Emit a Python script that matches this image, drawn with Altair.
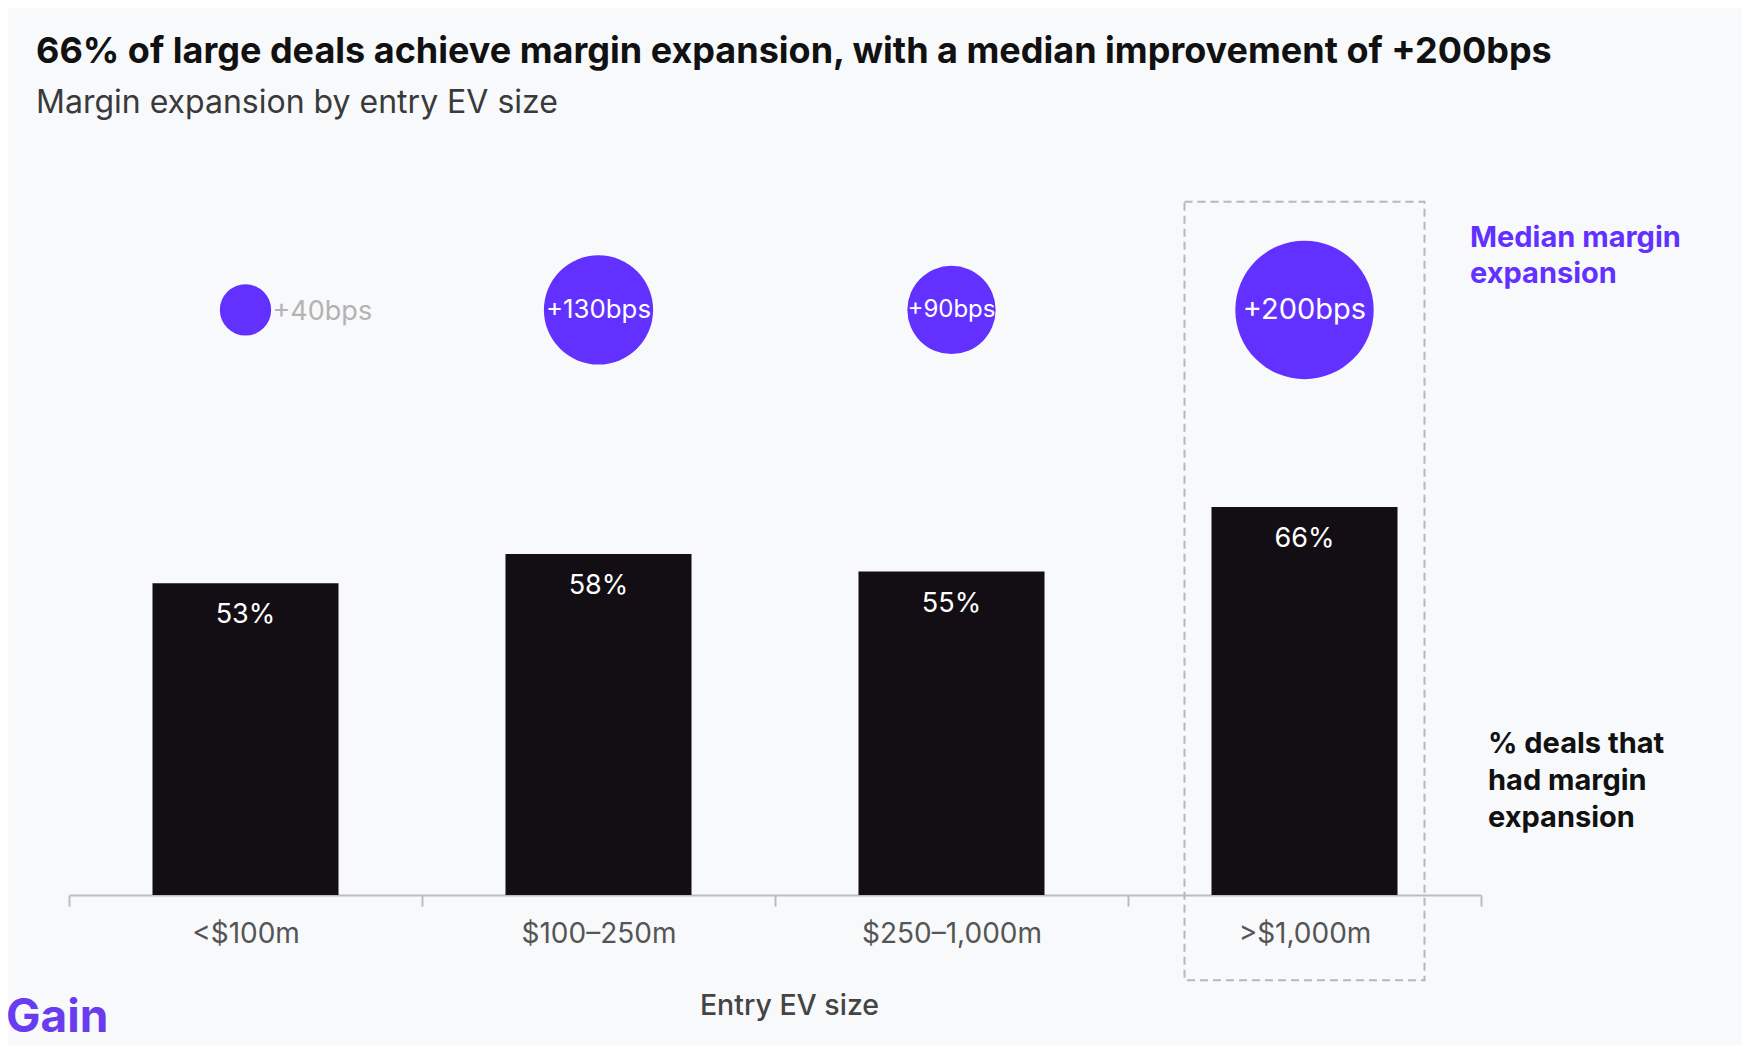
import pandas as pd
import altair as alt

# values
categories = ["<$100m", "$100–250m", "$250–1,000m", ">$1,000m"]
pct_deals = [53, 58, 55, 66]
median_bps = [40, 130, 90, 200]

PURPLE = "#6231ff"
BAR = "#130e14"
FONT = "Inter"

df = pd.DataFrame({
    "band": categories,
    "pct": pct_deals,
    "bps": median_bps,
})
df["pct_label"] = df["pct"].astype(str) + "%"
df["bps_label"] = "+" + df["bps"].astype(str) + "bps"

# side notes, with their vertical place on the % scale
notes = pd.DataFrame({
    "note": ["Median margin\nexpansion", "%  deals that\nhad margin\nexpansion"],
    "at": [114.1, 28.1],
})
logo_df = pd.DataFrame({"note": ["Gain"], "at": [-21.0]})
box_df = pd.DataFrame({"band": [categories[-1]], "top": [117.9], "bottom": [-14.5]})

x = alt.X("band:N", sort=categories, title="Entry EV size",
          scale=alt.Scale(paddingInner=0, paddingOuter=0),
          axis=alt.Axis(labelAngle=0, tickBand="extent", domainColor="#bdbdbd",
                        domainWidth=2, tickColor="#bdbdbd", tickWidth=2, tickSize=11,
                        labelColor="#555555", labelFontSize=28, labelFont=FONT,
                        labelPadding=14, titleColor="#444444", titleFontSize=28.5,
                        titleFont=FONT, titleFontWeight=500, titlePadding=43,
                        titleX=720))
y = alt.Y("pct:Q", scale=alt.Scale(domain=[0, 100]), axis=None)
y_bubble = alt.Y(datum=99.5, axis=None)

base = alt.Chart(df)

# dashed highlight around the largest size band
box = alt.Chart(box_df).mark_bar(size=240, fillOpacity=0, stroke="#b8b8b8",
                                 strokeWidth=2, strokeDash=[8, 5]).encode(
    x=x, y=alt.Y("top:Q", axis=None), y2="bottom:Q"
)

bars = base.mark_bar(width=alt.RelativeBandSize(0.527), color=BAR).encode(x=x, y=y)

bar_text = base.mark_text(color="white", fontSize=27, font=FONT, baseline="middle",
                          dy=32).encode(x=x, y=y, text="pct_label:N")

bubbles = base.mark_circle(color=PURPLE, opacity=1).encode(
    x=x, y=y_bubble,
    size=alt.Size("bps:Q", legend=None,
                  scale=alt.Scale(domain=[40, 200], range=[2634, 19150]))
)

bubble_in = base.mark_text(color="white", font=FONT, baseline="middle").encode(
    x=x, y=y_bubble, text="bps_label:N",
    size=alt.Size("bps:Q", legend=None, scale=alt.Scale(domain=[90, 200], range=[24, 29]))
).transform_filter(alt.datum.bps >= 50)

bubble_out = base.mark_text(color="#b3b3b3", fontSize=27, font=FONT, baseline="middle",
                            align="left", dx=27, dy=2).encode(
    x=x, y=y_bubble, text="bps_label:N"
).transform_filter(alt.datum.bps < 50)

median_note = alt.Chart(notes.iloc[[0]]).mark_text(
    color=PURPLE, fontSize=29, fontWeight="bold", font=FONT, align="left",
    baseline="top", lineHeight=36, lineBreak="\n").encode(
    x=alt.value(1401), y=alt.Y("at:Q", axis=None), text="note:N"
)

pct_note = alt.Chart(notes.iloc[[1]]).mark_text(
    color="#111111", fontSize=29, fontWeight="bold", font=FONT, align="left",
    baseline="top", lineHeight=37, lineBreak="\n").encode(
    x=alt.value(1419), y=alt.Y("at:Q", axis=None), text="note:N"
)

logo = alt.Chart(logo_df).mark_text(color="#6a3cf0", fontSize=46, fontWeight="bold",
                                    font=FONT, align="left", baseline="middle").encode(
    x=alt.value(-63), y=alt.Y("at:Q", axis=None), text="note:N"
)

chart = alt.layer(box, bars, bar_text, bubbles, bubble_in, bubble_out,
                  median_note, pct_note, logo).resolve_scale(size="independent").properties(
    width=1412,
    height=588,
    autosize=alt.AutoSizeParams(type="none"),
    padding={"left": 61, "top": 299, "right": 261, "bottom": 150},
    background="#f8f9fb",
    title=alt.Title(
        "66% of large deals achieve margin expansion, with a median improvement of +200bps",
        subtitle="Margin expansion by entry EV size",
        anchor="start", frame="group", dx=-33, offset=81,
        font=FONT, fontSize=36, fontWeight="bold", color="#111111",
        subtitleFont=FONT, subtitleFontSize=32, subtitleColor="#3a3a3a",
        subtitlePadding=17,
    ),
).configure_view(stroke=None)

chart.save("out.html", embed_options={"renderer": "svg", "actions": False})
